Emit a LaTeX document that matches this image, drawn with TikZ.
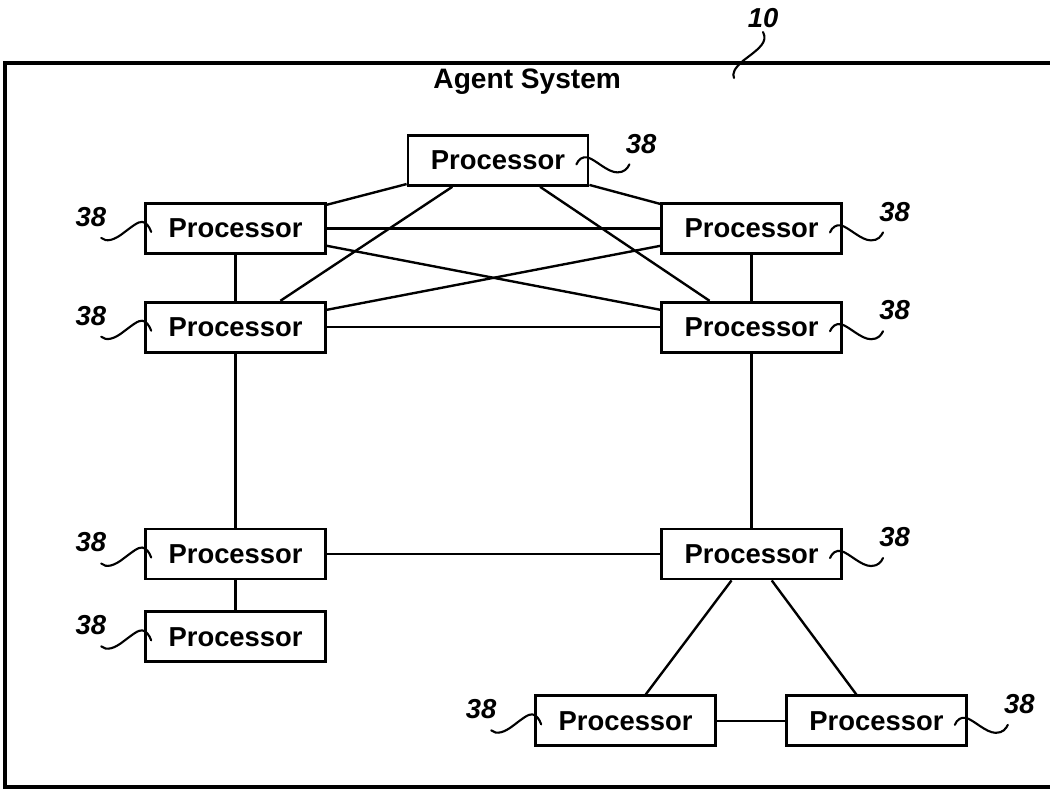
\documentclass[tikz,border=0pt]{standalone}
\usepackage{fontspec}
\setmainfont{Liberation Sans}
\usepackage{tikz}
\usetikzlibrary{positioning}
\usetikzlibrary{calc}
\tikzset{basic/.style={draw,line width=2pt,font=\fontsize{19.5}{23}\selectfont\bfseries}}
\tikzset{proc/.style={basic,rectangle,minimum width=4.5cm,minimum height=1.25cm,inner sep=0pt}}
\tikzset{link/.style={line width=1.7pt}}
\tikzset{lead/.style={line width=1.5pt,line cap=round}}
\tikzset{refnum/.style={font=\fontsize{19.5}{22}\selectfont\bfseries\itshape}}
\tikzset{refleft/.pic={
        \draw[lead] (-1.075,-0.2375) .. controls (-0.95,-0.35) and (-0.75,-0.3) .. (-0.5,-0.1)
            .. controls (-0.3,0.05) and (-0.15,0.175) .. (-0.05,0.1625)
            .. controls (0.05,0.15) and (0.125,0.05) .. (0.175,-0.0875);
        \node[refnum] (-num) at (-1.33,0.29) {38};}}
\tikzset{refright/.pic={
        \draw[lead] (-0.325,-0.1) .. controls (-0.275,0.025) and (-0.175,0.1) .. (-0.05,0.075)
            .. controls (0.15,0.025) and (0.45,-0.3) .. (0.7,-0.3)
            .. controls (0.875,-0.3) and (0.95,-0.2) .. (1.0,-0.1);
        \node[refnum] (-num) at (1.29,0.42) {38};}}

\begin{document}
\begin{tikzpicture}
                \useasboundingbox (0,0) rectangle (26.25,-19.775);
                \draw[line width=2.2pt] (26.4,-1.575) -- (0.125,-1.575) -- (0.125,-19.675) -- (26.4,-19.675);
                \node[font=\fontsize{20}{24}\selectfont\bfseries] (title) at (13.18,-2.05) {Agent System};
                \node[refnum] (sys) at (19.08,-0.45) {10};
                \coordinate (sysend) at (18.35,-1.95);
                    \draw[lead] (19.075,-0.8) .. controls (19.2,-1.05) and (19.0,-1.2) .. (18.6,-1.5)
                        .. controls (18.35,-1.7) and (18.3,-1.85) .. (sysend);
                \node[proc] (top) at (12.45,-4.01) {Processor};
                \node[proc] (l1) at (5.89,-5.71) {Processor};
                \node[proc,right=8.33cm of l1] (r1) {Processor};
                \node[proc,below=1.15cm of l1] (l2) {Processor};
                \node[proc,below=1.15cm of r1] (r2) {Processor};
                \node[proc,below=4.35cm of l2] (l3) {Processor};
                \node[proc,below=0.75cm of l3] (l4) {Processor};
                \node[proc,below=4.35cm of r2] (r3) {Processor};
                \node[proc,below=2.85cm of r3,xshift=-3.15cm] (b1) {Processor};
                \node[proc,right=1.7cm of b1] (b2) {Processor};
                    \path[draw,link] (top) -- (l1);
                    \path[draw,link] (top) -- (r1);
                    \path[draw,link] ($(top.south west)!0.25!(top.south east)$) -- ($(l2.north west)!0.745!(l2.north east)$);
                    \path[draw,link] ($(top.south west)!0.73!(top.south east)$) -- ($(r2.north west)!0.27!(r2.north east)$);
                    \path[draw,link] (l1) -- (r1);
                    \path[draw,link] (l1) -- (r2);
                    \path[draw,link] (l2) -- (r1);
                    \path[draw,link] (l2) -- (r2);
                    \path[draw,link] (l1) -- (l2);
                    \path[draw,link] (r1) -- (r2);
                    \path[draw,link] (l2) -- (l3);
                    \path[draw,link] (r2) -- (r3);
                    \path[draw,link] (l3) -- (r3);
                    \path[draw,link] (l3) -- (l4);
                    \path[draw,link] ($(r3.south west)!0.39!(r3.south east)$) -- ($(b1.north west)!0.61!(b1.north east)$);
                    \path[draw,link] ($(r3.south west)!0.61!(r3.south east)$) -- ($(b2.north west)!0.39!(b2.north east)$);
                    \path[draw,link] (b1) -- (b2);
                \pic (topref) at (top.east) {refright};
                \pic (r1ref) at (r1.east) {refright};
                \pic (r2ref) at (r2.east) {refright};
                \pic (r3ref) at (r3.east) {refright};
                \pic (b2ref) at (b2.east) {refright};
                \pic (l1ref) at (l1.west) {refleft};
                \pic (l2ref) at (l2.west) {refleft};
                \pic (l3ref) at (l3.west) {refleft};
                \pic (l4ref) at (l4.west) {refleft};
                \pic (b1ref) at (b1.west) {refleft};
\end{tikzpicture}
\end{document}
